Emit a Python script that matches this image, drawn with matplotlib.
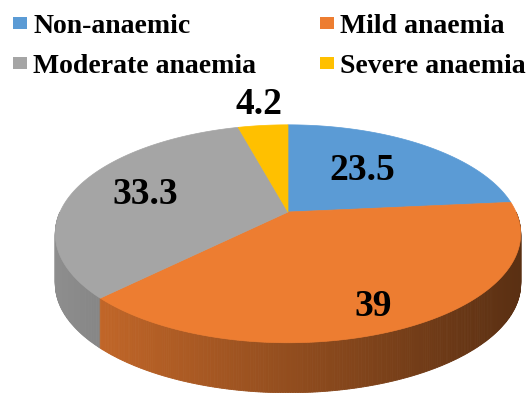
import matplotlib
matplotlib.use("Agg")
import matplotlib.pyplot as plt
from matplotlib.patches import Polygon, Rectangle
import numpy as np

# data
categories = ["Non-anaemic", "Mild anaemia", "Moderate anaemia", "Severe anaemia"]
values = [23.5, 39, 33.3, 4.2]
labels = ["23.5", "39", "33.3", "4.2"]
colors = ["#5B9BD5", "#ED7D31", "#A5A5A5", "#FFC000"]

# 3d pie geometry (pixel space)
CX, CY = 288, 212
RX, RY = 228, 104.6
K = 0.2          # perspective strength
DEPTH = 50


def rim(theta_deg, r=1.0):
    t = np.radians(theta_deg)
    s = r * np.sin(t)
    w = 1.0 / (1.0 + K * s)
    return CX + RX * r * np.cos(t) * w, CY - RY * s * w


fig = plt.figure(figsize=(5.32, 3.93), dpi=100)
ax = fig.add_axes([0, 0, 1, 1])
ax.set_xlim(0, 532)
ax.set_ylim(393, 0)
ax.axis("off")

# wedge angles, clockwise from 12 o'clock
total = sum(values)
bounds = [90.0]
for v in values:
    bounds.append(bounds[-1] - 360.0 * v / total)


def color_at(theta):
    for i in range(len(values)):
        lo, hi = bounds[i + 1], bounds[i]
        for k in (-360, 0, 360):
            if lo <= theta + k <= hi:
                return colors[i]
    return colors[-1]


# side wall (front half), shaded left -> right
step = 0.5
for a in np.arange(180, 360, step):
    x1, y1 = rim(a)
    x2, y2 = rim(a + step)
    c = np.array(matplotlib.colors.to_rgb(color_at(a + step / 2)))
    t = np.clip(((x1 + x2) / 2 - 55) / 466, 0, 1)
    shade = c * (0.86 - 0.48 * t)
    ax.add_patch(Polygon([(x1, y1), (x2, y2), (x2, y2 + DEPTH), (x1, y1 + DEPTH)],
                         closed=True, facecolor=shade, edgecolor=shade, lw=0.6))

# top face
for i, col in enumerate(colors):
    angs = np.linspace(bounds[i], bounds[i + 1], 200)
    pts = [(CX, CY)] + [rim(a) for a in angs]
    ax.add_patch(Polygon(pts, closed=True, facecolor=col, edgecolor=col, lw=0.5))

# value labels
label_pos = [(362, 170), (373, 307), (145, 195), (259, 104)]
for lab, (lx, ly) in zip(labels, label_pos):
    ax.text(lx, ly, lab, ha="center", va="center", fontsize=27,
            fontweight="bold", family="Liberation Serif", color="black")

# legend
leg_x = [13, 320]
leg_y = [33, 73]
for i, (cat, col) in enumerate(zip(categories, colors)):
    lx = leg_x[i % 2]
    ly = leg_y[i // 2]
    ax.add_patch(Rectangle((lx, ly - 16), 14, 12, facecolor=col, edgecolor="none"))
    ax.text(lx + 20, ly, cat, ha="left", va="baseline", fontsize=20,
            fontweight="bold", family="Liberation Serif", color="black")

fig.savefig("out.png", dpi=100)
